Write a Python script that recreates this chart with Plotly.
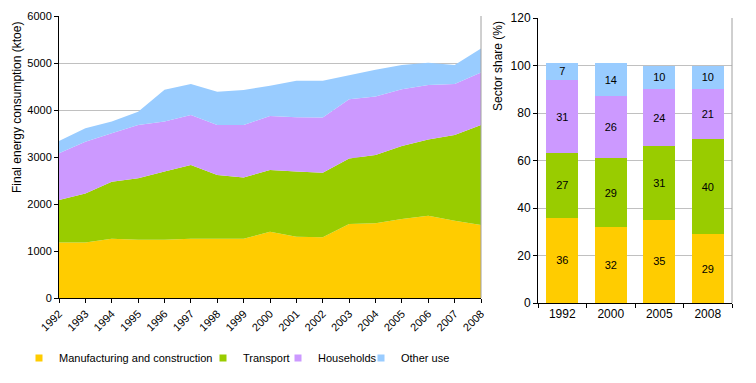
import plotly.graph_objects as go

years = list(range(1992, 2009))
manufacturing = [1180, 1180, 1260, 1240, 1240, 1260, 1260, 1260, 1410, 1305, 1290, 1575, 1590, 1680, 1750, 1645, 1555]
transport = [905, 1045, 1215, 1310, 1450, 1570, 1355, 1305, 1315, 1385, 1375, 1395, 1455, 1555, 1625, 1825, 2125]
households = [995, 1100, 1030, 1130, 1065, 1065, 1065, 1115, 1150, 1155, 1175, 1260, 1240, 1205, 1155, 1085, 1120]
other_use = [260, 285, 250, 285, 675, 660, 710, 745, 640, 775, 780, 510, 570, 515, 475, 405, 510]

share_years = ["1992", "2000", "2005", "2008"]
share_manufacturing = [36, 32, 35, 29]
share_transport = [27, 29, 31, 40]
share_households = [31, 26, 24, 21]
share_other = [7, 14, 10, 10]

names = ["Manufacturing and construction", "Transport", "Households", "Other use"]
colors = ["#FFCC00", "#99CC00", "#CC99FF", "#99CCFF"]
area_series = [manufacturing, transport, households, other_use]
bar_series = [share_manufacturing, share_transport, share_households, share_other]

FONT = "Liberation Sans, Arial, sans-serif"
OFF = 8  # page body margin
W, H = 756 - OFF, 383 - OFF


def px_x(p):
    return (p - OFF) / W


def px_y(p):
    return 1 - (p - OFF) / H


fig = go.Figure()

for name, col, vals in zip(names, colors, area_series):
    fig.add_trace(go.Scatter(
        x=years, y=vals, name=name, stackgroup="one", mode="none",
        fillcolor=col, line=dict(width=0), showlegend=False,
        xaxis="x", yaxis="y", hoverinfo="x+y+name"))

for name, col, vals in zip(names, colors, bar_series):
    fig.add_trace(go.Bar(
        x=share_years, y=vals, name=name, marker=dict(color=col, line=dict(width=0)),
        text=[str(v) for v in vals], textposition="inside", insidetextanchor="middle",
        textfont=dict(color="black", size=11, family=FONT), textangle=0,
        constraintext="none", width=0.66, showlegend=False,
        xaxis="x2", yaxis="y2"))

legend_keys = ["legend", "legend2", "legend3", "legend4"]
for name, col, lk in zip(names, colors, legend_keys):
    fig.add_trace(go.Scatter(
        x=[None], y=[None], name=name, mode="markers",
        marker=dict(symbol="square", size=7, color=col, line=dict(width=0)),
        legend=lk, showlegend=True, xaxis="x2", yaxis="y2"))

axis_common = dict(
    showline=True, linecolor="black", linewidth=1,
    ticks="outside", ticklen=4, tickcolor="black",
    tickfont=dict(family=FONT, size=11, color="black"),
    automargin=False, zeroline=False,
)
font12 = dict(family=FONT, size=12, color="black")

layout = dict(
    width=W, height=H,
    margin=dict(l=0, r=0, t=0, b=0),
    paper_bgcolor="white", plot_bgcolor="white",
    font=dict(family=FONT, size=11, color="black"),
    barmode="stack",
    xaxis=dict(domain=[px_x(59), px_x(481)], range=[1992, 2008],
               tickvals=years, ticktext=[str(y) for y in years], tickangle=-45,
               showgrid=False, anchor="y", **axis_common),
    yaxis=dict(domain=[px_y(298), px_y(16)], range=[0, 6000], dtick=1000,
               showgrid=True, gridcolor="#C0C0C0", gridwidth=1, anchor="x",
               **axis_common),
    xaxis2=dict(domain=[px_x(538), px_x(732)], type="category",
                categoryorder="array", categoryarray=share_years,
                tickson="boundaries", showgrid=False, anchor="y2",
                **{**axis_common, "tickfont": font12}),
    yaxis2=dict(domain=[px_y(303), px_y(18)], range=[0, 120], dtick=20,
                showgrid=True, gridcolor="#C0C0C0", gridwidth=1, anchor="x2",
                **{**axis_common, "tickfont": font12}),
    shapes=[
        dict(type="line", xref="x domain", yref="y domain", x0=1, x1=1, y0=0, y1=1,
             line=dict(color="#A0A0A0", width=1)),
        dict(type="line", xref="x2 domain", yref="y2 domain", x0=1, x1=1, y0=0, y1=1,
             line=dict(color="#A0A0A0", width=1)),
    ],
    annotations=[
        dict(text="Final energy consumption (ktoe)", xref="paper", yref="paper",
             x=0, y=px_y(108), xanchor="left", yanchor="middle",
             textangle=-90, showarrow=False, font=font12),
        dict(text="Sector share (%)", xref="paper", yref="paper",
             x=px_x(498), y=px_y(66), xanchor="center", yanchor="middle",
             textangle=-90, showarrow=False, font=font12),
    ],
)

text_starts = [59, 243, 318, 401]
for lk, ts in zip(legend_keys, text_starts):
    layout[lk] = dict(x=px_x(ts - 40), y=px_y(358), xanchor="left", yanchor="middle",
                      orientation="h", bgcolor="rgba(0,0,0,0)",
                      font=dict(family=FONT, size=11, color="black"))

fig.update_layout(**layout)
fig.write_html("out.html")
